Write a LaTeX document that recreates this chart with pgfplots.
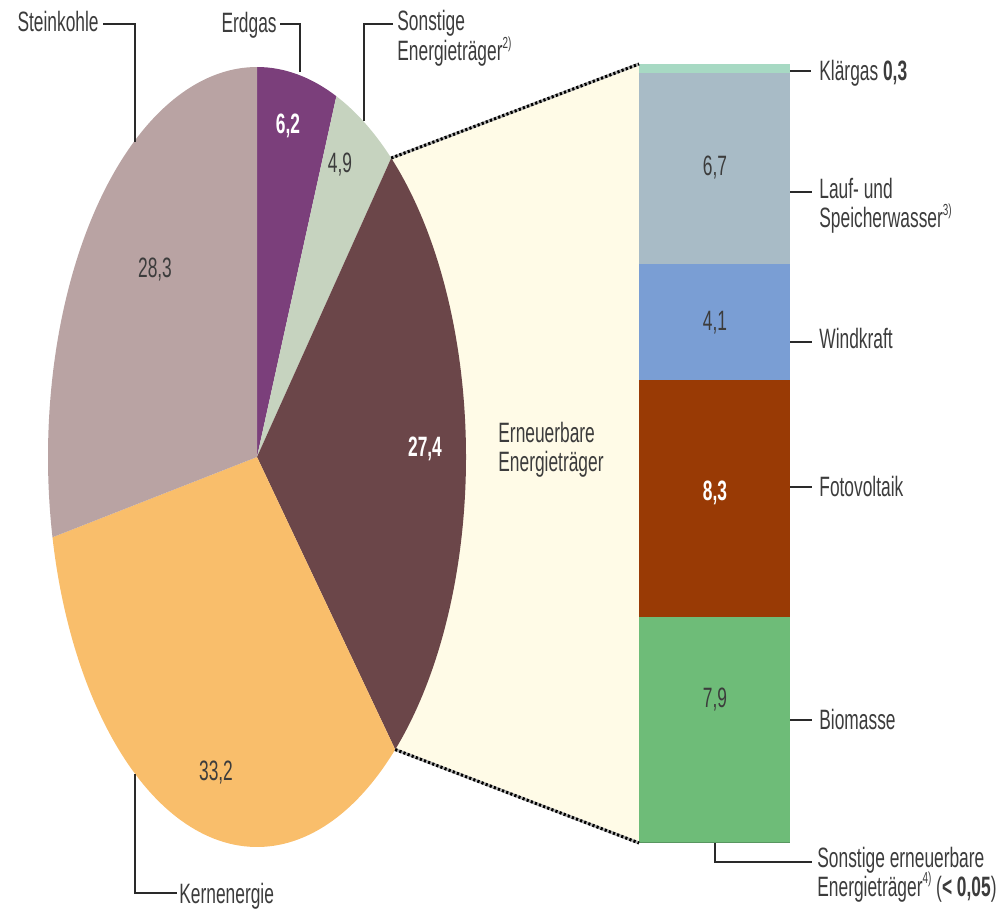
\documentclass[border=0pt]{standalone}
\usepackage{pgfplots}
\pgfplotsset{compat=1.18}
\usepackage{fontspec}
\setmainfont{Liberation Sans}[FakeStretch=0.62]
\definecolor{cStein}{HTML}{B9A3A3}
\definecolor{cErd}{HTML}{7B3F7B}
\definecolor{cSon}{HTML}{C6D3BF}
\definecolor{cErn}{HTML}{6B4649}
\definecolor{cKern}{HTML}{F9BE6B}
\definecolor{cCream}{HTML}{FFFBE7}
\definecolor{cKlaer}{HTML}{A7D9C3}
\definecolor{cLauf}{HTML}{A8BBC6}
\definecolor{cWind}{HTML}{7A9ED4}
\definecolor{cFoto}{HTML}{993A05}
\definecolor{cBio}{HTML}{6EBC78}
\definecolor{cText}{HTML}{3C3C3C}
\definecolor{cLine}{HTML}{2A2A2A}
% pie data (percent)
\def\vErd{6.2}
\def\vSon{4.9}
\def\vErn{27.4}
\def\vKern{33.2}
\def\vStein{28.3}
\newcommand\slice[3]{\fill[#3] (axis cs:0,0) -- (axis cs:{cos(#1)},{sin(#1)}) arc[start angle=#1, end angle=#2, x radius=104.5pt, y radius=195pt] -- cycle;}
\newcommand\lab{\fontsize{14}{14.5}\selectfont\color{cText}}
\newcommand\fn[1]{\raisebox{0.85ex}{\fontsize{8}{8}\selectfont #1}}
\begin{document}
\begin{tikzpicture}
\pgfmathsetmacro\aA{90}
\pgfmathsetmacro\aB{\aA-3.6*\vErd}
\pgfmathsetmacro\aC{\aB-3.6*\vSon}
\pgfmathsetmacro\aD{\aC-3.6*\vErn}
\pgfmathsetmacro\aE{\aD-3.6*\vKern}
\pgfmathsetmacro\aF{\aE-3.6*\vStein}
\begin{scope}[x=0.5pt,y=-0.5pt]
\useasboundingbox (0,0) rectangle (1006,914);
\fill[cCream] ({257+209*cos(\aC)},{457-390*sin(\aC)}) -- (639,64) -- (639,843) -- ({257+209*cos(\aD)},{457-390*sin(\aD)}) -- cycle;
\end{scope}
% pie
\begin{axis}[at={(128.5pt,-228.5pt)}, anchor=center, x=104.5pt, y=195pt,
  xmin=-1, xmax=1, ymin=-1, ymax=1, hide axis, clip=false]
\slice{\aA}{\aB}{cErd}
\slice{\aB}{\aC}{cSon}
\slice{\aC}{\aD}{cErn}
\slice{\aD}{\aE}{cKern}
\slice{\aE}{\aF}{cStein}
\end{axis}
% bar of pie
\begin{axis}[at={(357.25pt,-421.5pt)}, anchor=south, x=75.5pt, y=14.25pt,
  xmin=-0.5, xmax=0.5, ymin=0, ymax=27.33, hide axis, clip=false,
  ybar stacked, bar width=75.5pt]
\addplot[fill=cBio!80!black, draw=none] coordinates {(0,0.03)};
\addplot[fill=cBio, draw=none] coordinates {(0,7.9)};
\addplot[fill=cFoto, draw=none] coordinates {(0,8.3)};
\addplot[fill=cWind, draw=none] coordinates {(0,4.1)};
\addplot[fill=cLauf, draw=none] coordinates {(0,6.7)};
\addplot[fill=cKlaer, draw=none] coordinates {(0,0.3)};
\end{axis}
\begin{scope}[x=0.5pt,y=-0.5pt]
% connectors
\foreach \p/\q in {{({257+209*cos(\aC)},{457-390*sin(\aC)})}/{(639,64)},{({257+209*cos(\aD)},{457-390*sin(\aD)})}/{(639,843)}}{
  \draw[gray!60, line width=1.5pt] \p -- \q;
  \draw[black, line width=1.5pt, dash pattern=on 1.1pt off 1.1pt] \p -- \q;
}
% leader lines
\draw[cLine, line width=1pt] (103,24) -- (135,24) -- (135,142);
\draw[cLine, line width=1pt] (280,24) -- (300,24) -- (300,72);
\draw[cLine, line width=1pt] (393,24) -- (364,24) -- (364,121);
\draw[cLine, line width=1pt] (135,774) -- (135,893) -- (177,893);
\draw[cLine, line width=1pt] (790,71) -- (811,71);
\draw[cLine, line width=1pt] (790,192) -- (812,192);
\draw[cLine, line width=1pt] (790,342) -- (812,342);
\draw[cLine, line width=1pt] (790,487) -- (812,487);
\draw[cLine, line width=1pt] (790,720) -- (812,720);
\draw[cLine, line width=1pt] (715,843) -- (715,862) -- (812,862);
% outer labels
\node[anchor=base east, inner sep=0] at (99,32) {\lab Steinkohle};
\node[anchor=base east, inner sep=0] at (277,33) {\lab Erdgas};
\node[anchor=base west, inner sep=0, text depth=0pt] at (397,31) {\lab Sonstige};
\node[anchor=base west, inner sep=0, text height=7pt] at (397,61) {\lab Energieträger\fn{2)}};
\node[anchor=base west, inner sep=0] at (179,903) {\lab Kernenergie};
\node[anchor=base west, inner sep=0] at (819,81) {\lab Klärgas \textbf{0,3}};
\node[anchor=base west, inner sep=0, text depth=0pt] at (819,199) {\lab Lauf- und};
\node[anchor=base west, inner sep=0, text height=7pt] at (819,228) {\lab Speicherwasser\fn{3)}};
\node[anchor=base west, inner sep=0] at (819,349) {\lab Windkraft};
\node[anchor=base west, inner sep=0] at (819,496) {\lab Fotovoltaik};
\node[anchor=base west, inner sep=0] at (819,729) {\lab Biomasse};
\node[anchor=base west, inner sep=0, text depth=0pt] at (817,867) {\lab Sonstige erneuerbare};
\node[anchor=base west, inner sep=0, text height=7pt] at (817,896) {\lab Energieträger\fn{4)} (\textbf{< 0,05})};
% inner labels
\node[anchor=base, inner sep=0] at (288,134) {\lab\color{white}\textbf{6,2}};
\node[anchor=base, inner sep=0] at (340,173) {\lab 4,9};
\node[anchor=base, inner sep=0] at (155,278) {\lab 28,3};
\node[anchor=base, inner sep=0] at (425,456) {\lab\color{white}\textbf{27,4}};
\node[anchor=base, inner sep=0] at (216,780) {\lab 33,2};
\node[anchor=base west, inner sep=0] at (498,442) {\lab Erneuerbare};
\node[anchor=base west, inner sep=0] at (498,471) {\lab Energieträger};
\node[anchor=base, inner sep=0] at (715,176) {\lab 6,7};
\node[anchor=base, inner sep=0] at (715,331) {\lab 4,1};
\node[anchor=base, inner sep=0] at (715,500) {\lab\color{white}\textbf{8,3}};
\node[anchor=base, inner sep=0] at (715,707) {\lab 7,9};
\end{scope}
\end{tikzpicture}
\end{document}
